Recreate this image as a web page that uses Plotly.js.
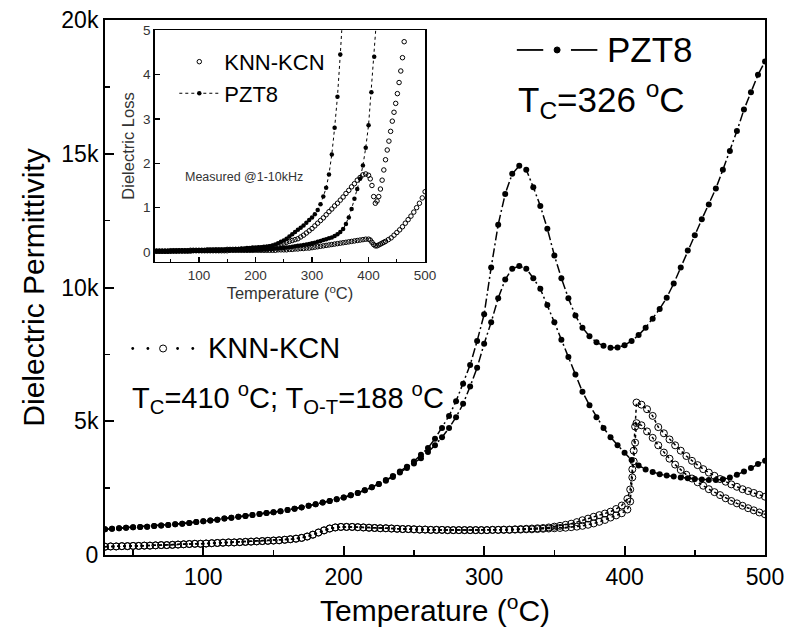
<!DOCTYPE html>
<html>
<head>
<meta charset="utf-8">
<script src="https://cdn.plot.ly/plotly-3.0.1.min.js"></script>
<style>html,body{margin:0;padding:0;background:#fff;}#chart{width:788px;height:635px;}</style>
</head>
<body>
<div id="chart"></div>
<script>
// ---------- Main plot: dielectric permittivity (values in thousands) ----------
const pztT = [30,35,40,45,50,55,60,65,70,75,
  80,85,90,95,100,105,110,115,120,125,
  130,135,140,145,150,155,160,165,170,175,
  180,185,190,195,200,205,210,215,220,225,
  230,235,240,245,250,255,260,265,270,275,
  280,285,290,295,300,305,310,315,320,325,
  330,335,340,345,350,355,360,365,370,375,
  380,385,390,395,400,405,410,415,420,425,
  430,435,440,445,450,455,460,465,470,475,
  480,485,490,495,500];
const pztEps1 = [0.96,0.98,1.0,1.02,1.04,1.05,1.06,1.08,1.1,1.12,
  1.15,1.17,1.2,1.23,1.26,1.29,1.32,1.36,1.39,1.43,
  1.46,1.5,1.53,1.57,1.6,1.64,1.68,1.73,1.78,1.84,
  1.9,1.96,2.02,2.08,2.15,2.23,2.32,2.42,2.53,2.65,
  2.8,2.95,3.12,3.3,3.5,3.75,4.0,4.35,4.75,5.2,
  5.75,6.4,7.1,8.0,9.0,10.75,12.35,13.5,14.25,14.55,
  14.4,13.75,13.05,12.2,11.2,10.35,9.6,8.95,8.5,8.18,
  7.95,7.82,7.75,7.76,7.84,8.0,8.22,8.5,8.83,9.2,
  9.62,10.15,10.75,11.38,11.95,12.55,13.1,13.7,14.4,15.1,
  15.85,16.65,17.3,17.95,18.45];
const pztEps2 = [0.96,0.98,1.0,1.02,1.04,1.05,1.06,1.08,1.1,1.12,
  1.15,1.17,1.2,1.23,1.26,1.29,1.32,1.36,1.39,1.43,
  1.46,1.5,1.53,1.57,1.6,1.64,1.68,1.73,1.78,1.84,
  1.9,1.96,2.02,2.08,2.15,2.23,2.32,2.42,2.53,2.65,
  2.78,2.92,3.08,3.25,3.42,3.62,3.85,4.1,4.4,4.75,
  5.15,5.65,6.3,7.0,7.9,8.7,9.6,10.3,10.7,10.8,
  10.7,10.35,9.95,9.35,8.7,8.05,7.4,6.75,6.1,5.6,
  5.15,4.75,4.4,4.1,3.82,3.55,3.35,3.2,3.1,3.02,
  2.97,2.93,2.9,2.87,2.84,2.82,2.8,2.8,2.83,2.9,
  3.0,3.12,3.25,3.4,3.52];

const knnT = [30,34,38,42,46,50,54,58,62,66,
  70,74,78,82,86,90,94,98,102,106,
  110,114,118,122,126,130,134,138,142,146,
  150,154,158,162,166,170,174,178,182,186,
  190,194,198,202,206,210,214,218,222,226,
  230,234,238,242,246,250,254,258,262,266,
  270,274,278,282,286,290,294,298,302,306,
  310,314,318,322,326,330,334,338,342,346,
  350,354,358,362,366,370,374,378,382,386,
  390,394,398,402,404,405.5,406.5,407.5,408.5,412,
  416,420,424,428,432,436,440,444,448,452,
  456,460,464,468,472,476,480,484,488,492,
  496,500];
const knnEps1 = [0.31,0.32,0.32,0.33,0.33,0.34,0.34,0.35,0.35,0.36,
  0.37,0.37,0.38,0.39,0.40,0.41,0.42,0.42,0.43,0.44,
  0.45,0.46,0.47,0.47,0.48,0.49,0.50,0.51,0.52,0.53,
  0.54,0.55,0.57,0.59,0.61,0.64,0.69,0.76,0.84,0.92,
  0.99,1.03,1.05,1.05,1.05,1.04,1.03,1.02,1.01,1.0,
  1.0,0.99,0.98,0.97,0.97,0.96,0.95,0.95,0.94,0.94,
  0.94,0.93,0.93,0.93,0.93,0.93,0.93,0.93,0.93,0.94,
  0.94,0.95,0.95,0.96,0.97,0.98,0.99,1.0,1.01,1.03,
  1.06,1.09,1.13,1.17,1.23,1.3,1.36,1.43,1.49,1.55,
  1.62,1.72,1.85,2.1,2.45,3.2,3.9,4.8,5.7,5.62,
  5.45,5.2,4.78,4.55,4.32,4.1,3.9,3.7,3.52,3.36,
  3.21,3.08,2.96,2.84,2.74,2.64,2.55,2.46,2.39,2.32,
  2.25,2.18];
const knnEps2 = [0.31,0.32,0.32,0.33,0.33,0.34,0.34,0.35,0.35,0.36,
  0.37,0.37,0.38,0.39,0.40,0.41,0.42,0.42,0.43,0.44,
  0.45,0.46,0.47,0.47,0.48,0.49,0.50,0.51,0.52,0.53,
  0.54,0.55,0.57,0.59,0.61,0.64,0.69,0.76,0.84,0.92,
  0.99,1.03,1.05,1.05,1.05,1.04,1.03,1.02,1.01,1.0,
  1.0,0.99,0.98,0.97,0.97,0.96,0.95,0.95,0.94,0.94,
  0.94,0.93,0.93,0.93,0.93,0.93,0.93,0.93,0.93,0.94,
  0.94,0.94,0.94,0.95,0.95,0.96,0.96,0.97,0.98,0.99,
  1.0,1.01,1.02,1.04,1.06,1.09,1.13,1.18,1.24,1.31,
  1.4,1.48,1.56,1.7,2.0,2.9,3.5,4.2,4.93,4.85,
  4.62,4.38,4.1,3.83,3.6,3.38,3.18,3.0,2.86,2.72,
  2.59,2.46,2.35,2.24,2.12,2.02,1.93,1.84,1.75,1.67,
  1.59,1.52];

const yTickVals = [0,5,10,15,20];
const yTickText = ['0','5k','10k','15k','20k'];

// ---------- Inset: dielectric loss ----------
const insT_pztA = [25,30,35,40,45,50,55,60,65,70,
  75,80,85,90,95,100,105,110,115,120,
  125,130,135,140,145,150,155,160,165,170,
  175,180,185,190,195,200,205,210,215,220,
  225,230,235,240,245,250,255,260,265,270,
  275,280,285,290,295,300,305,310,315,320,
  325,330,335,340,345,350,355];
const insL_pztA = [0.02,0.02,0.02,0.02,0.02,0.02,0.03,0.03,0.03,0.03,
  0.03,0.03,0.03,0.03,0.03,0.04,0.04,0.04,0.04,0.04,
  0.04,0.05,0.05,0.05,0.05,0.06,0.06,0.06,0.07,0.07,
  0.08,0.08,0.09,0.09,0.1,0.1,0.11,0.11,0.12,0.12,
  0.13,0.15,0.17,0.2,0.23,0.26,0.3,0.35,0.4,0.45,
  0.5,0.55,0.6,0.66,0.72,0.78,0.85,0.95,1.08,1.25,
  1.45,1.75,2.2,2.8,3.5,4.45,5.5];
const insT_pztB = [25,30,35,40,45,50,55,60,65,70,
  75,80,85,90,95,100,105,110,115,120,
  125,130,135,140,145,150,155,160,165,170,
  175,180,185,190,195,200,205,210,215,220,
  225,230,235,240,245,250,255,260,265,270,
  275,280,285,290,295,300,305,310,315,320,
  325,330,335,340,345,350,355,360,365,370,
  375,380,385,390,395,400,405,410,415];
const insL_pztB = [0.02,0.02,0.02,0.02,0.02,0.02,0.02,0.02,0.03,0.03,
  0.03,0.03,0.03,0.03,0.03,0.03,0.03,0.03,0.03,0.03,
  0.03,0.03,0.03,0.04,0.04,0.04,0.04,0.04,0.04,0.04,
  0.04,0.04,0.04,0.04,0.04,0.05,0.05,0.05,0.06,0.06,
  0.07,0.07,0.08,0.08,0.09,0.09,0.1,0.11,0.12,0.13,
  0.14,0.15,0.16,0.17,0.18,0.2,0.21,0.23,0.25,0.27,
  0.29,0.31,0.33,0.36,0.4,0.45,0.52,0.63,0.78,0.97,
  1.2,1.42,1.65,1.95,2.35,2.86,3.6,4.4,5.4];
const insT_knnC = [25,30,35,40,45,50,55,60,65,70,
  75,80,85,90,95,100,105,110,115,120,
  125,130,135,140,145,150,155,160,165,170,
  175,180,185,190,195,200,205,210,215,220,
  225,230,235,240,245,250,255,260,265,270,
  275,280,285,290,295,300,305,310,315,320,
  325,330,335,340,345,350,355,360,365,370,
  375,380,385,390,395,400,
  403,406,409,412,415,418,421,424,427,430,
  433,436,439,442,445,448,451,454,457,460,463];
const insL_knnC = [0.02,0.02,0.02,0.02,0.02,0.03,0.03,0.03,0.03,0.03,
  0.03,0.03,0.04,0.04,0.04,0.04,0.04,0.04,0.05,0.05,
  0.05,0.05,0.05,0.05,0.05,0.06,0.06,0.06,0.06,0.06,
  0.06,0.06,0.07,0.07,0.07,0.07,0.08,0.09,0.1,0.11,
  0.12,0.13,0.14,0.16,0.18,0.2,0.22,0.24,0.26,0.28,
  0.3,0.34,0.38,0.43,0.48,0.53,0.59,0.65,0.71,0.77,
  0.84,0.91,0.97,1.04,1.1,1.17,1.24,1.32,1.39,1.47,
  1.54,1.62,1.68,1.74,1.76,1.73,
  1.65,1.5,1.25,1.1,1.15,1.25,1.42,1.62,1.85,2.08,
  2.3,2.5,2.72,2.95,3.15,3.35,3.57,3.82,4.08,4.38,4.74];
const insT_knnD = [25,30,35,40,45,50,55,60,65,70,
  75,80,85,90,95,100,105,110,115,120,
  125,130,135,140,145,150,155,160,165,170,
  175,180,185,190,195,200,205,210,215,220,
  225,230,235,240,245,250,255,260,265,270,
  275,280,285,290,295,300,305,310,315,320,
  325,330,335,340,345,350,355,360,365,370,
  375,380,385,390,395,400,
  403,406,409,412,415,418,421,424,427,430,
  435,440,445,450,455,460,465,470,475,480,
  485,490,495,500];
const insL_knnD = [0.02,0.02,0.02,0.02,0.02,0.02,0.02,0.02,0.02,0.02,
  0.02,0.02,0.02,0.03,0.03,0.03,0.03,0.03,0.03,0.03,
  0.03,0.03,0.03,0.03,0.03,0.03,0.04,0.04,0.04,0.04,
  0.04,0.04,0.04,0.04,0.04,0.04,0.04,0.04,0.04,0.04,
  0.04,0.04,0.04,0.05,0.05,0.05,0.05,0.06,0.06,0.07,
  0.07,0.08,0.08,0.09,0.09,0.1,0.11,0.12,0.13,0.14,
  0.15,0.16,0.17,0.18,0.19,0.2,0.21,0.22,0.23,0.24,
  0.25,0.26,0.27,0.28,0.29,0.29,
  0.27,0.22,0.17,0.14,0.14,0.16,0.18,0.2,0.22,0.24,
  0.28,0.32,0.38,0.44,0.5,0.57,0.65,0.73,0.81,0.9,
  1.0,1.1,1.22,1.36];

// ---------- Traces ----------
const K = 'black';
const pztMainLine = {color: K, width: 1.5, dash: '9px,3px,2px,3px'};
const knnMainLine = {color: K, width: 1.5, dash: 'dot'};
const traces = [
  {x: pztT, y: pztEps1, name: 'PZT8', mode: 'lines+markers', line: pztMainLine,
   marker: {size: 6, color: K}, showlegend: false, xaxis: 'x', yaxis: 'y'},
  {x: pztT, y: pztEps2, name: 'PZT8', mode: 'lines+markers', line: pztMainLine,
   marker: {size: 6, color: K}, showlegend: false, xaxis: 'x', yaxis: 'y'},
  {x: knnT, y: knnEps1, name: 'KNN-KCN', mode: 'lines+markers', line: knnMainLine,
   marker: {size: 7, symbol: 'circle-open', color: K, line: {width: 1, color: K}},
   showlegend: false, xaxis: 'x', yaxis: 'y'},
  {x: knnT, y: knnEps2, name: 'KNN-KCN', mode: 'lines+markers', line: knnMainLine,
   marker: {size: 7, symbol: 'circle-open', color: K, line: {width: 1, color: K}},
   showlegend: false, xaxis: 'x', yaxis: 'y'},
  {x: insT_knnC, y: insL_knnC, name: 'KNN-KCN', mode: 'markers',
   marker: {size: 4.5, symbol: 'circle-open', color: K, line: {width: 1, color: K}},
   legend: 'legend', showlegend: true, xaxis: 'x2', yaxis: 'y2'},
  {x: insT_knnD, y: insL_knnD, name: 'KNN-KCN', mode: 'markers',
   marker: {size: 4.5, symbol: 'circle-open', color: K, line: {width: 1, color: K}},
   showlegend: false, xaxis: 'x2', yaxis: 'y2'},
  {x: insT_pztA, y: insL_pztA, name: 'PZT8', mode: 'lines+markers',
   line: {color: K, width: 1, dash: 'dot'}, marker: {size: 4.5, color: K},
   legend: 'legend', showlegend: true, xaxis: 'x2', yaxis: 'y2'},
  {x: insT_pztB, y: insL_pztB, name: 'PZT8', mode: 'lines+markers',
   line: {color: K, width: 1, dash: 'dot'}, marker: {size: 4.5, color: K},
   showlegend: false, xaxis: 'x2', yaxis: 'y2'}
];

const FONT = 'Liberation Sans, Arial, Helvetica, sans-serif';
const axBase = {showline: true, linecolor: K, mirror: true, showgrid: false, zeroline: false,
  ticks: 'inside', tickcolor: K};

// main-plot key samples (drawn as decorations in paper space)
const keyPZT = {x1: 0.624, x2: 0.664, xDot: 0.685, x3: 0.706, x4: 0.746, xText: 0.757, y: 0.944};
const keyKNN = {dots: [0.042, 0.065, 0.110, 0.133], xCircle: 0.088, xText: 0.153, y: 0.386};

const shapes = [
  {type: 'line', xref: 'paper', yref: 'paper', x0: keyPZT.x1, x1: keyPZT.x2, y0: keyPZT.y, y1: keyPZT.y,
   line: {color: K, width: 1.8}},
  {type: 'line', xref: 'paper', yref: 'paper', x0: keyPZT.x3, x1: keyPZT.x4, y0: keyPZT.y, y1: keyPZT.y,
   line: {color: K, width: 1.8}},
  {type: 'circle', xref: 'paper', yref: 'paper', xsizemode: 'pixel', ysizemode: 'pixel',
   xanchor: keyPZT.xDot, yanchor: keyPZT.y, x0: -3, x1: 3, y0: -3, y1: 3,
   fillcolor: K, line: {color: K, width: 1}},
  {type: 'circle', xref: 'paper', yref: 'paper', xsizemode: 'pixel', ysizemode: 'pixel',
   xanchor: keyKNN.xCircle, yanchor: keyKNN.y, x0: -3.5, x1: 3.5, y0: -3.5, y1: 3.5,
   fillcolor: 'white', line: {color: K, width: 1}}
].concat(keyKNN.dots.map(d => ({type: 'circle', xref: 'paper', yref: 'paper',
   xsizemode: 'pixel', ysizemode: 'pixel', xanchor: d, yanchor: keyKNN.y,
   x0: -1.4, x1: 1.4, y0: -1.4, y1: 1.4, fillcolor: K, line: {color: K, width: 0}})));

const layout = {
  width: 788, height: 635,
  margin: {l: 105, r: 23, t: 20, b: 80},
  paper_bgcolor: 'white', plot_bgcolor: 'white',
  font: {family: FONT, color: K},
  showlegend: true,
  xaxis: Object.assign({}, axBase, {
    domain: [0, 1], range: [30, 500], tick0: 0, dtick: 100,
    linewidth: 2, ticklen: 9, tickwidth: 2,
    minor: {dtick: 50, ticks: 'inside', ticklen: 5, tickwidth: 1.5, tickcolor: K},
    tickfont: {size: 23, family: FONT},
    title: {text: 'Temperature (<sup>o</sup>C)', font: {size: 30, family: FONT}, standoff: 8}
  }),
  yaxis: Object.assign({}, axBase, {
    domain: [0, 1], range: [0, 20], tickvals: yTickVals, ticktext: yTickText,
    linewidth: 2, ticklen: 9, tickwidth: 2,
    minor: {dtick: 2.5, ticks: 'inside', ticklen: 5, tickwidth: 1.5, tickcolor: K},
    tickfont: {size: 23, family: FONT},
    title: {text: 'Dielectric Permittivity', font: {size: 30, family: FONT}, standoff: 8}
  }),
  xaxis2: Object.assign({}, axBase, {
    domain: [0.0755, 0.485], anchor: 'y2', range: [22, 500], tick0: 0, dtick: 100,
    linewidth: 1.5, ticklen: 5, tickwidth: 1.2,
    minor: {dtick: 50, ticks: 'inside', ticklen: 3, tickwidth: 1, tickcolor: K},
    tickfont: {size: 13.5, family: FONT, color: '#333'},
    title: {text: 'Temperature (<sup>o</sup>C)', font: {size: 16.5, family: FONT, color: '#333'}, standoff: 2}
  }),
  yaxis2: Object.assign({}, axBase, {
    domain: [0.548, 0.981], anchor: 'x2', range: [-0.22, 5], tick0: 0, dtick: 1,
    linewidth: 1.5, ticklen: 5, tickwidth: 1.2,
    tickfont: {size: 13.5, family: FONT, color: '#333'},
    title: {text: 'Dielectric Loss', font: {size: 16.5, family: FONT, color: '#333'}, standoff: 4}
  }),
  legend: {x: 0.105, y: 0.961, xanchor: 'left', yanchor: 'top', bgcolor: 'rgba(0,0,0,0)',
    font: {size: 22, family: FONT}, itemwidth: 40, tracegroupgap: 0},
  shapes: shapes,
  annotations: [
    {xref: 'paper', yref: 'paper', x: keyPZT.xText, y: keyPZT.y, xanchor: 'left', yanchor: 'middle',
     text: 'PZT8', showarrow: false, font: {size: 35, family: FONT}},
    {xref: 'paper', yref: 'paper', x: 0.622, y: 0.852, xanchor: 'left', yanchor: 'middle',
     text: 'T<sub>C</sub>=326 <sup>o</sup>C', showarrow: false, font: {size: 35, family: FONT}},
    {xref: 'paper', yref: 'paper', x: keyKNN.xText, y: keyKNN.y, xanchor: 'left', yanchor: 'middle',
     text: 'KNN-KCN', showarrow: false, font: {size: 29, family: FONT}},
    {xref: 'paper', yref: 'paper', x: 0.038, y: 0.293, xanchor: 'left', yanchor: 'middle',
     text: 'T<sub>C</sub>=410 <sup>o</sup>C; T<sub>O-T</sub>=188 <sup>o</sup>C', showarrow: false,
     font: {size: 29, family: FONT}},
    {xref: 'x2', yref: 'y2', x: 72, y: 1.69, xanchor: 'left', yanchor: 'middle',
     text: 'Measured @1-10kHz', showarrow: false, font: {size: 12.5, family: FONT, color: '#333'}}
  ]
};

Plotly.newPlot('chart', traces, layout, {displayModeBar: false, staticPlot: true});
</script>
</body>
</html>
